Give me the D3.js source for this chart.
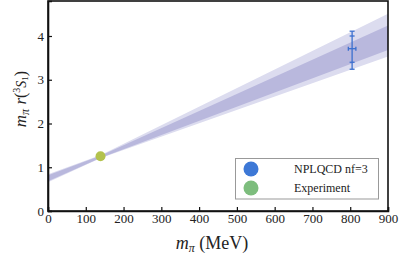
<!DOCTYPE html>
<html><head><meta charset="utf-8">
<script src="https://cdn.jsdelivr.net/npm/d3@7"></script>
<style>body{margin:0;background:#fff}svg{display:block}</style>
</head><body>
<script>
// Data
const xTicks = [0,100,200,300,400,500,600,700,800,900];
const yTicks = [0,1,2,3,4];
const bandX = [0, 140, 900];
const outerLow = [0.66, 1.21, 3.53];
const outerHigh = [0.84, 1.28, 4.51];
const innerLow = [0.68, 1.22, 3.68];
const innerHigh = [0.82, 1.27, 4.24];
const lqcdX = [805];
const lqcdY = [3.71];
const lqcdStatLo = [3.40], lqcdStatHi = [4.00];
const lqcdTotLo = [3.24], lqcdTotHi = [4.11];
const lqcdXErr = [10];
const expX = [139];
const expY = [1.25];
const legendLabels = ["NPLQCD nf=3", "Experiment"];
const legendColors = ["#3d78d6", "#7dbd7d"];

const W = 415, H = 259;
const m = {left:48, right:27, top:1, bottom:48};
const svg = d3.select("body").append("svg").attr("width", W).attr("height", H);
const x = d3.scaleLinear().domain([0,900]).range([m.left, W - m.right]);
const y = d3.scaleLinear().domain([0,4.8]).range([H - m.bottom, m.top]);

const clip = svg.append("clipPath").attr("id","c").append("rect")
  .attr("x", x(0)).attr("y", y(4.8)).attr("width", x(900)-x(0)).attr("height", y(0)-y(4.8));
const g = svg.append("g").attr("clip-path","url(#c)");

const area = (lo, hi) => d3.area().x((d,i)=>x(bandX[i])).y0((d,i)=>y(lo[i])).y1((d,i)=>y(hi[i]));
g.append("path").datum(bandX).attr("d", area(outerLow, outerHigh)).attr("fill","#dcdcef");
g.append("path").datum(bandX).attr("d", area(innerLow, innerHigh)).attr("fill","#b9b8dd");

// Experiment point
g.selectAll(".exp").data(expX).enter().append("circle")
  .attr("cx", d=>x(d)).attr("cy", (d,i)=>y(expY[i])).attr("r", 5).attr("fill","#b3c24d");

// LQCD error bar
const eb = g.append("g").attr("stroke","#3b6fcf").attr("stroke-width",1.3).attr("fill","none");
lqcdX.forEach((xv,i)=>{
  const cx = x(xv);
  eb.append("line").attr("x1",cx).attr("x2",cx).attr("y1",y(lqcdTotLo[i])).attr("y2",y(lqcdTotHi[i]));
  [lqcdTotLo[i], lqcdStatLo[i], lqcdStatHi[i], lqcdTotHi[i]].forEach(v=>{
    eb.append("line").attr("x1",cx-2.5).attr("x2",cx+2.5).attr("y1",y(v)).attr("y2",y(v));
  });
  const cy = y(lqcdY[i]);
  eb.append("line").attr("x1",x(xv-lqcdXErr[i])).attr("x2",x(xv+lqcdXErr[i])).attr("y1",cy).attr("y2",cy);
  [xv-lqcdXErr[i], xv+lqcdXErr[i]].forEach(v=>{
    eb.append("line").attr("x1",x(v)).attr("x2",x(v)).attr("y1",cy-2).attr("y2",cy+2);
  });
});

// Frame
svg.append("rect").attr("x", x(0)).attr("y", y(4.8)).attr("width", x(900)-x(0)).attr("height", y(0)-y(4.8))
  .attr("fill","none").attr("stroke","#111").attr("stroke-width",1.6);

const font = "'Liberation Serif', 'DejaVu Serif', serif";
// Axes with inward ticks
const xAxis = svg.append("g").attr("transform",`translate(0,${y(0)})`)
  .call(d3.axisBottom(x).tickValues(xTicks).tickSize(-4).tickPadding(3).tickFormat(d3.format("d")));
const yAxis = svg.append("g").attr("transform",`translate(${x(0)},0)`)
  .call(d3.axisLeft(y).tickValues(yTicks).tickSize(-4).tickPadding(4).tickFormat(d3.format("d")));
[xAxis, yAxis].forEach(a=>{
  a.select(".domain").attr("stroke","#111").attr("stroke-width",1.6);
  a.selectAll(".tick line").attr("stroke","#111").attr("stroke-width",1.2);
  a.selectAll(".tick text").attr("font-family",font).attr("font-size",13).attr("fill","#222");
});

// Axis labels
svg.append("text").attr("x", 212).attr("y", 249).attr("text-anchor","middle")
  .attr("font-family",font).attr("font-size",18).attr("fill","#222")
  .html('<tspan font-style="italic">m</tspan><tspan font-style="italic" font-size="12" dy="3">π</tspan><tspan dy="-3"> (MeV)</tspan>');
svg.append("text").attr("transform","translate(26,99) rotate(-90)").attr("text-anchor","middle")
  .attr("font-family",font).attr("font-size",17).attr("fill","#222")
  .html('<tspan font-style="italic">m</tspan><tspan font-style="italic" font-size="12" dy="3">π</tspan><tspan dy="-3" font-style="italic"> r</tspan><tspan font-size="16">(</tspan><tspan font-size="10" dy="-6">3</tspan><tspan font-style="italic" font-size="14" dy="6">S</tspan><tspan font-size="9" dy="2">1</tspan><tspan font-size="16" dy="-2">)</tspan>');

// Legend
const lg = svg.append("g");
lg.append("rect").attr("x",235.5).attr("y",158.5).attr("width",143).attr("height",40.5)
  .attr("fill","#fff").attr("stroke","#999").attr("stroke-width",1);
legendLabels.forEach((t,i)=>{
  lg.append("circle").attr("cx",251).attr("cy",169+i*19).attr("r",7.5).attr("fill",legendColors[i]);
  lg.append("text").attr("x",294).attr("y",173+i*19).attr("font-family",font).attr("font-size",12)
    .attr("fill","#222").text(t);
});
</script>
</body></html>
